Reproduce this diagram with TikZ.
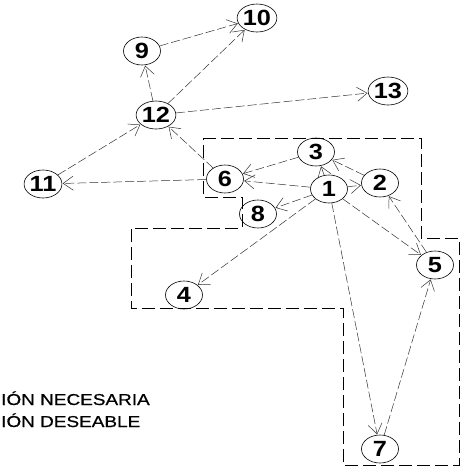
\documentclass[tikz,border=0pt]{standalone}
\usepackage{fontspec}
\setmainfont{Liberation Sans}
\newfontfamily\heavyish[FakeBold=0.6]{Liberation Sans}
\usetikzlibrary{shapes.geometric,arrows.meta}
\begin{document}
\begin{tikzpicture}[x=1pt,y=-1pt,
  nd/.style={ellipse,draw,line width=0.6pt,minimum width=37pt,minimum height=28pt,inner sep=0pt,
    font=\fontsize{22}{22}\selectfont\bfseries},
  ed/.style={draw=black!80,line width=0.5pt,dash pattern=on 9pt off 3pt,
    -{Straight Barb[length=10pt,width=14pt]},shorten >=0.5pt},
  zone/.style={draw=black,line width=0.8pt,dash pattern=on 13pt off 5pt},
  lbl/.style={anchor=base west,inner sep=0pt,font=\fontsize{15.8}{15.8}\heavyish}]
\useasboundingbox (0,0) rectangle (461,467);
\draw[zone] (203,138) -- (421,138) -- (421,238) -- (459,238) -- (459,465) -- (343,465)
  -- (343,308) -- (131,308) -- (131,228) -- (242,228) -- (242,197) -- (203,197) -- cycle;
\node[nd] (n10) at (257,18) {\scalebox{1.15}[1]{10}};
\node[nd] (n9) at (142,51) {\scalebox{1.15}[1]{9}};
\node[nd] (n12) at (156,115) {\scalebox{1.15}[1]{12}};
\node[nd] (n13) at (388,91) {\scalebox{1.15}[1]{13}};
\node[nd] (n3) at (316,152) {\scalebox{1.15}[1]{3}};
\node[nd] (n6) at (225,179) {\scalebox{1.15}[1]{6}};
\node[nd] (n11) at (43,184) {\scalebox{1.15}[1]{11}};
\node[nd] (n1) at (329,189) {\scalebox{1.15}[1]{1}};
\node[nd] (n2) at (380,183) {\scalebox{1.15}[1]{2}};
\node[nd] (n8) at (258,214) {\scalebox{1.15}[1]{8}};
\node[nd] (n5) at (435,265) {\scalebox{1.15}[1]{5}};
\node[nd] (n4) at (184,295) {\scalebox{1.15}[1]{4}};
\node[nd] (n7) at (380,449) {\scalebox{1.15}[1]{7}};
\draw[ed] (n9) -- (n10);
\draw[ed] (n12) -- (n10);
\draw[ed] (n12) -- (n9);
\draw[ed] (n12) -- (n13);
\draw[ed] (n11) -- (n12);
\draw[ed] (n6) -- (n12);
\draw[ed] (n6) -- (n11);
\draw[ed] (n3) -- (n6);
\draw[ed] (n1) -- (n6);
\draw[ed] (n1) -- (n3);
\draw[ed] (n2) -- (n3);
\draw[ed] (n1) -- (n2);
\draw[ed] (n1) -- (n8);
\draw[ed] (n1) -- (n4);
\draw[ed] (n1) -- (n7);
\draw[ed] (n1) -- (n5);
\draw[ed] (n5) -- (n2);
\draw[ed] (n7) -- (n5);
\node[lbl] (t1) at (1,405) {\scalebox{1.2}[1]{IÓN NECESARIA}};
\node[lbl] (t2) at (1,427) {\scalebox{1.2}[1]{IÓN DESEABLE}};
\end{tikzpicture}
\end{document}
